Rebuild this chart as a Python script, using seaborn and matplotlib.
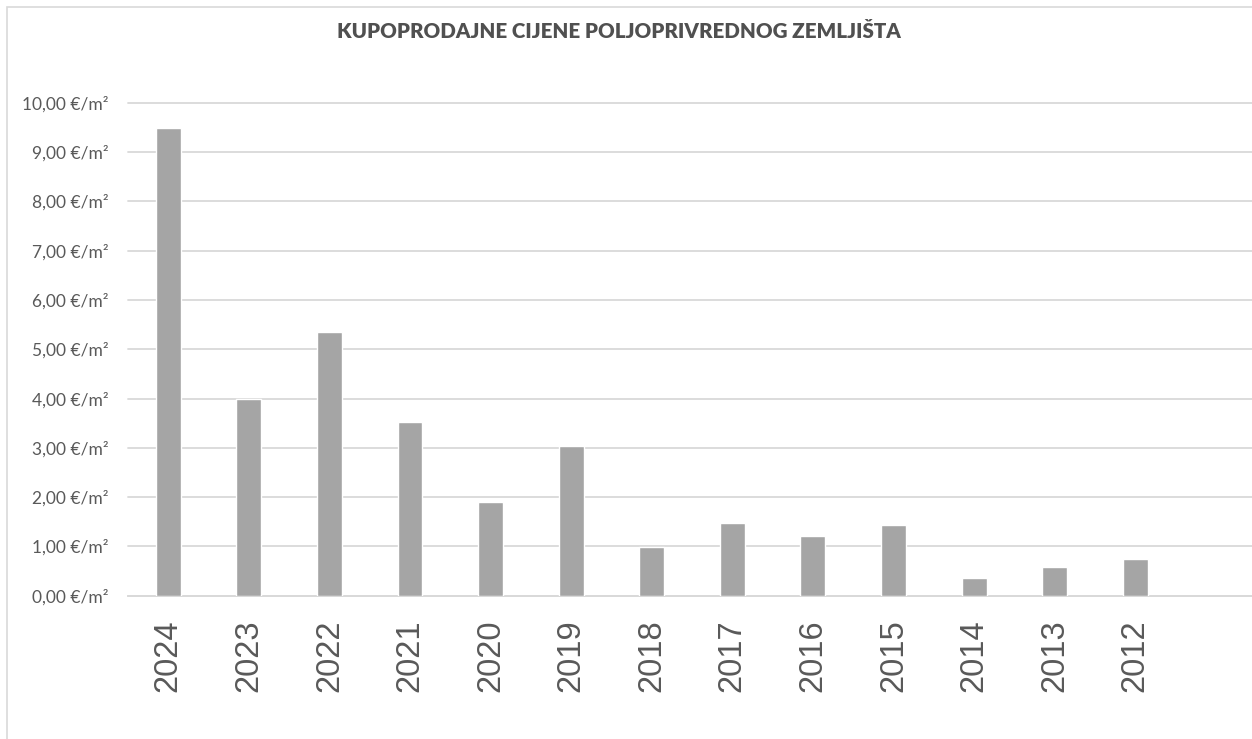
import matplotlib
matplotlib.use("Agg")
import matplotlib.pyplot as plt
import seaborn as sns
import pandas as pd
from matplotlib.patches import Rectangle

years = ["2024", "2023", "2022", "2021", "2020", "2019", "2018",
         "2017", "2016", "2015", "2014", "2013", "2012"]
prices = [9.48, 4.00, 5.35, 3.52, 1.91, 3.04, 0.99,
          1.47, 1.21, 1.43, 0.35, 0.58, 0.74]
yticks = [0, 1, 2, 3, 4, 5, 6, 7, 8, 9, 10]
title = "KUPOPRODAJNE CIJENE POLJOPRIVREDNOG ZEMLJIŠTA"

df = pd.DataFrame({"year": years, "price": prices})

sns.set_theme(style="white")
plt.rcParams["font.family"] = ["Lato", "DejaVu Sans"]

fig = plt.figure(figsize=(12.52, 7.39), dpi=100)
ax = fig.add_axes([128 / 1252, 1 - 595.7 / 739, 1 - 128 / 1252, (595.7 - 102.7) / 739])

sns.barplot(data=df, x="year", y="price", order=years, color="#a5a5a5",
            saturation=1, width=0.31, ax=ax, zorder=3)

ax.set_xlim(-0.5, 13.45)
ax.set_ylim(0, 10)
ax.set_yticks(yticks)
ax.set_yticklabels([f"{v:.2f}".replace(".", ",") + " €/m²" for v in yticks],
                   fontsize=12.5, color="#595959")
ax.yaxis.grid(True, color="#d9d9d9", linewidth=1.3, zorder=0)
ax.set_axisbelow(True)
for ln in ax.get_ygridlines():
    ln.set_clip_on(False)
ax.tick_params(axis="y", length=0, pad=14)
ax.tick_params(axis="x", length=0, pad=17, rotation=90)
for lbl in ax.get_xticklabels():
    lbl.set_fontfamily(["Liberation Sans", "DejaVu Sans"])
    lbl.set_fontsize(23.5)
    lbl.set_color("#595959")
for s in ["top", "right", "left"]:
    ax.spines[s].set_visible(False)
ax.spines["bottom"].set_color("#d9d9d9")
ax.spines["bottom"].set_linewidth(1.3)
ax.set_xlabel("")
ax.set_ylabel("")

fig.text(0.494, 1 - 31 / 739, title, ha="center", va="center",
         fontsize=14.8, fontweight="heavy", color="#505050")

fig.patches.append(Rectangle((7 / 1252, -0.05), 1.2, 1 - 7 / 739 + 0.05,
                             transform=fig.transFigure, fill=False,
                             edgecolor="#d9d9d9", linewidth=1.2))

fig.savefig("out.png", dpi=100)
